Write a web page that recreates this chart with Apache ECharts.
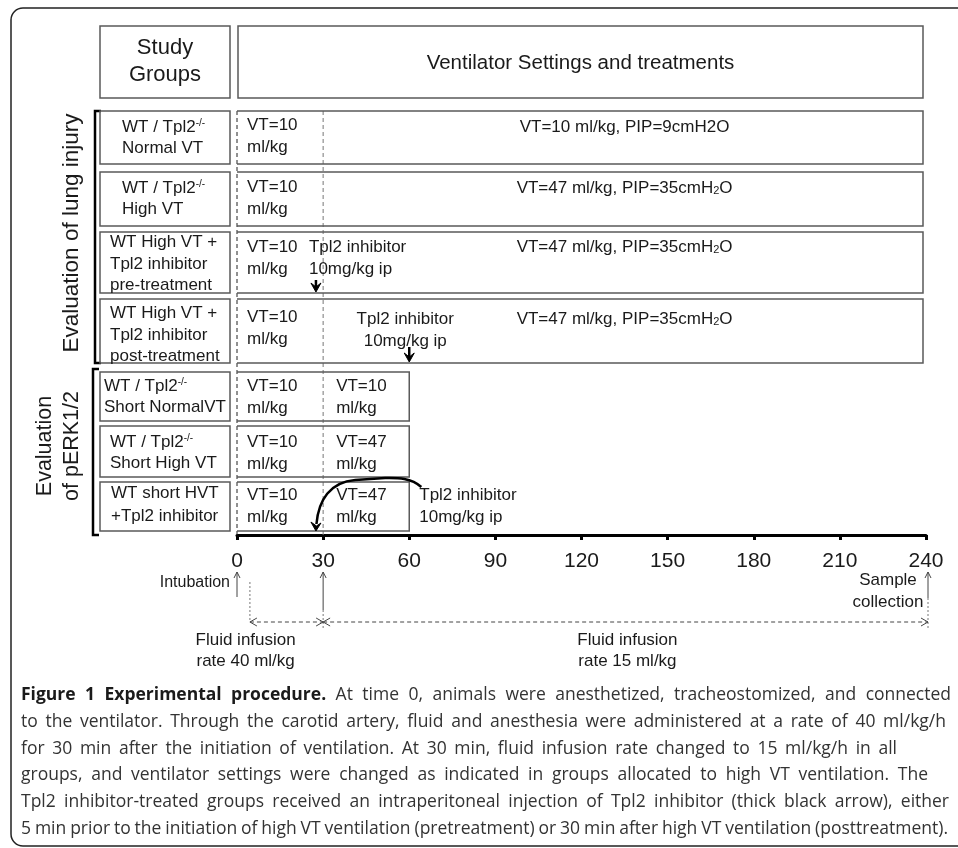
<!DOCTYPE html>
<html><head><meta charset="utf-8">
<script src="https://cdn.jsdelivr.net/npm/echarts@6/dist/echarts.min.js"></script>
<style>html,body{margin:0;padding:0;background:#fff}#c{width:958px;height:848px}</style>
</head><body><div id="c"></div>
<script>
// ---------------- DATA ----------------
const timeTicks = [0, 30, 60, 90, 120, 150, 180, 210, 240];
const groupLines = [
  ["WT / Tpl2{s|-/-}", "Normal VT"],
  ["WT / Tpl2{s|-/-}", "High VT"],
  ["WT High VT +", "Tpl2 inhibitor", "pre-treatment"],
  ["WT High VT +", "Tpl2 inhibitor", "post-treatment"],
  ["WT / Tpl2{s|-/-}", "Short NormalVT"],
  ["WT / Tpl2{s|-/-}", "Short High VT"],
  ["WT short HVT", "+Tpl2 inhibitor"]
];
const rowEnd = [240, 240, 240, 240, 60, 60, 60];
const switchTime = 30;
const earlySettings = [
  ["VT=10", "ml/kg"], ["VT=10", "ml/kg"], ["VT=10", "ml/kg"], ["VT=10", "ml/kg"],
  ["VT=10", "ml/kg"], ["VT=10", "ml/kg"], ["VT=10", "ml/kg"]
];
const lateSettings = [
  ["VT=10 ml/kg, PIP=9cmH2O"],
  ["VT=47 ml/kg, PIP=35cmH{b|2}O"],
  ["VT=47 ml/kg, PIP=35cmH{b|2}O"],
  ["VT=47 ml/kg, PIP=35cmH{b|2}O"],
  ["VT=10", "ml/kg"],
  ["VT=47", "ml/kg"],
  ["VT=47", "ml/kg"]
];
const injectionTime = [null, null, 27.5, 60, null, null, 27.5];
const injectionLabel = ["Tpl2 inhibitor", "10mg/kg ip"];
const eventTimes = [0, 30, 240];
const eventLabels = [["Intubation"], [], ["Sample", "collection"]];
const infusionStart = [4.5, 30];
const infusionEnd = [30, 240];
const infusionLabels = [["Fluid infusion", "rate 40 ml/kg"], ["Fluid infusion", "rate 15 ml/kg"]];
const headerLabels = [["Study", "Groups"], ["Ventilator Settings and treatments"]];
const sectionLabels = [["Evaluation of lung injury"], ["Evaluation", "of pERK1/2"]];
const captionBold = "Figure 1 Experimental procedure.";
const captionLines = [
  "At time 0, animals were anesthetized, tracheostomized, and connected",
  "to the ventilator. Through the carotid artery, fluid and anesthesia were administered at a rate of 40 ml/kg/h",
  "for 30 min after the initiation of ventilation. At 30 min, fluid infusion rate changed to 15 ml/kg/h in all",
  "groups, and ventilator settings were changed as indicated in groups allocated to high VT ventilation. The",
  "Tpl2 inhibitor-treated groups received an intraperitoneal injection of Tpl2 inhibitor (thick black arrow), either",
  "5 min prior to the initiation of high VT ventilation (pretreatment) or 30 min after high VT ventilation (posttreatment)."
];

// ---------------- LAYOUT (pixels) ----------------
const FONT = "Liberation Sans";
const CAPFONT = "Open Sans";
const TXT = "#1a1a1a";
const BOX = "#5a5a5a";
const L = {
  rowTop: [111, 172, 232, 299, 372, 426, 482],
  rowBot: [164, 226, 293, 363, 421, 477, 531],
  leftX0: 100, leftX1: 230,
  leftTextX: [122, 122, 110, 110, 104, 110, 111],
  leftTextY: [[127, 148], [188, 209], [242, 264, 285], [313, 335, 356], [386, 407], [442, 463], [493, 516]],
  earlyY: [125, 187, 247, 317, 386, 442, 495],
  lateY: [127, 188, 247, 319, 386, 442, 495],
  lateCenterT: 135,
  lineGap: 22,
  guideTop: 111, guideBot: 535,
  headerTop: 26, headerBot: 98,
  capX: 21, capY: 695, capGap: 26.8, capFont: 17.5,
  capEnd: [951, 946, 897, 928, 949, 948]
};

const subRich = {
  s: { fontSize: 10, fontFamily: FONT, verticalAlign: 'top', fill: TXT },
  b: { fontSize: 11, fontFamily: FONT, verticalAlign: 'bottom', fill: TXT }
};

function txt(x, y, text, opt) {
  opt = opt || {};
  return {
    type: 'text',
    style: Object.assign({
      x: x, y: y, text: text, fill: TXT, fontFamily: FONT, fontSize: 17,
      align: 'left', verticalAlign: 'middle', rich: subRich
    }, opt)
  };
}

function rowRender(params, api) {
  const i = params.dataIndex;
  const x0 = api.coord([0, 0])[0];
  const xs = api.coord([switchTime, 0])[0];
  const xe = api.coord([rowEnd[i], 0])[0] - (rowEnd[i] === 240 ? 3 : 0);
  const top = api.coord([0, L.rowTop[i]])[1];
  const bot = api.coord([0, L.rowBot[i]])[1];
  const ch = [];
  ch.push({ type: 'rect', shape: { x: L.leftX0, y: top, width: L.leftX1 - L.leftX0, height: bot - top },
    style: { fill: 'none', stroke: BOX, lineWidth: 1.5 } });
  ch.push({ type: 'polyline', shape: { points: [[x0, top], [xe, top], [xe, bot], [x0, bot]] },
    style: { fill: 'none', stroke: BOX, lineWidth: 1.5 } });
  groupLines[i].forEach((s, k) => ch.push(txt(L.leftTextX[i], L.leftTextY[i][k], s)));
  earlySettings[i].forEach((s, k) => ch.push(txt(x0 + 10, L.earlyY[i] + k * L.lineGap, s)));
  if (rowEnd[i] > 100) {
    const xc = api.coord([L.lateCenterT, 0])[0];
    lateSettings[i].forEach((s, k) => ch.push(txt(xc, L.lateY[i] + k * L.lineGap, s, { align: 'center' })));
  } else {
    lateSettings[i].forEach((s, k) => ch.push(txt(xs + 13, L.lateY[i] + k * L.lineGap, s)));
  }
  return { type: 'group', children: ch };
}

function guideRender(params, api) {
  const t = [0, switchTime][params.dataIndex];
  const x = api.coord([t, 0])[0];
  return { type: 'line', shape: { x1: x, y1: api.coord([0, L.guideTop])[1], x2: x, y2: api.coord([0, L.guideBot])[1] },
    style: { stroke: t === 0 ? '#222' : '#777', lineWidth: 1, lineDash: [4, 3] } };
}

function headerRender(params, api) {
  const x0 = api.coord([0, 0])[0], x1 = api.coord([240, 0])[0] - 3;
  const top = api.coord([0, L.headerTop])[1], bot = api.coord([0, L.headerBot])[1];
  return { type: 'group', children: [
    { type: 'rect', shape: { x: x0 + 1, y: top, width: x1 - x0 - 1, height: bot - top }, style: { fill: 'none', stroke: BOX, lineWidth: 1.5 } },
    { type: 'rect', shape: { x: L.leftX0, y: top, width: L.leftX1 - L.leftX0, height: bot - top }, style: { fill: 'none', stroke: BOX, lineWidth: 1.5 } },
    txt((L.leftX0 + L.leftX1) / 2, 48, headerLabels[0][0], { align: 'center', fontSize: 22 }),
    txt((L.leftX0 + L.leftX1) / 2, 75, headerLabels[0][1], { align: 'center', fontSize: 22 }),
    txt(api.coord([120, 0])[0] - 1, 63, headerLabels[1][0], { align: 'center', fontSize: 20.5 })
  ] };
}

function downArrow(x, y1, y2) {
  return [
    { type: 'line', shape: { x1: x, y1: y1, x2: x, y2: y2 - 3 }, style: { stroke: '#000', lineWidth: 2.5 } },
    { type: 'polygon', shape: { points: [[x - 5, y2 - 9], [x, y2], [x + 5, y2 - 9], [x, y2 - 5]] }, style: { fill: '#000', stroke: '#000', lineWidth: 1 } }
  ];
}

function injectRender(params, api) {
  const ch = [];
  injectionTime.forEach((t, i) => {
    if (t === null) return;
    const x = api.coord([t, 0])[0];
    const bot = L.rowBot[i];
    if (i === 2) {
      ch.push(...downArrow(x, bot - 13, bot - 1));
      injectionLabel.forEach((s, k) => ch.push(txt(x - 7, 247 + k * L.lineGap, s)));
    } else if (i === 3) {
      ch.push(...downArrow(x, bot - 16, bot - 1));
      injectionLabel.forEach((s, k) => ch.push(txt(x - 4, 319 + k * L.lineGap, s, { align: 'center' })));
    } else {
      const xe = api.coord([rowEnd[i], 0])[0];
      const c = (tt) => api.coord([tt, 0])[0];
      const path = 'M' + c(64.2) + ' 487 C' + c(60.3) + ' 477 ' + c(55.1) + ' 478 ' + c(51.6) + ' 478 L' + c(41.2) +
        ' 480 C' + c(32.4) + ' 482 ' + c(28.4) + ' 500 ' + (x + 0.5) + ' 524';
      ch.push({ type: 'path', shape: { pathData: path }, style: { fill: 'none', stroke: '#000', lineWidth: 2.5 } });
      ch.push({ type: 'polygon', shape: { points: [[x - 5, bot - 9], [x, bot], [x + 5, bot - 8], [x + 0.5, bot - 5]] }, style: { fill: '#000', stroke: '#000', lineWidth: 1 } });
      injectionLabel.forEach((s, k) => ch.push(txt(xe + 10, 495 + k * L.lineGap, s)));
    }
  });
  return { type: 'group', children: ch };
}

function openHead(x, y, dir) {
  let pts;
  if (dir === 'up') pts = [[x - 3, y + 6], [x, y], [x + 3, y + 6]];
  if (dir === 'left') pts = [[x + 7, y - 4], [x, y], [x + 7, y + 4]];
  if (dir === 'right') pts = [[x - 7, y - 4], [x, y], [x - 7, y + 4]];
  return { type: 'polyline', shape: { points: pts }, style: { fill: 'none', stroke: '#444', lineWidth: 1 } };
}

function bottomRender(params, api) {
  const ch = [];
  const X = (t) => api.coord([t, 0])[0];
  const xi = X(eventTimes[0]);
  ch.push({ type: 'line', shape: { x1: xi, y1: 597, x2: xi, y2: 572 }, style: { stroke: '#444', lineWidth: 1 } });
  ch.push(openHead(xi, 572, 'up'));
  ch.push(txt(xi - 7, 583, eventLabels[0][0], { align: 'right', fontSize: 16 }));
  const x30 = X(eventTimes[1]);
  ch.push({ type: 'line', shape: { x1: x30, y1: 610, x2: x30, y2: 572 }, style: { stroke: '#444', lineWidth: 1 } });
  ch.push({ type: 'line', shape: { x1: x30, y1: 610, x2: x30, y2: 628 }, style: { stroke: '#777', lineWidth: 1, lineDash: [2, 2] } });
  ch.push(openHead(x30, 572, 'up'));
  const xs = X(eventTimes[2]) + 2;
  ch.push({ type: 'line', shape: { x1: xs, y1: 598, x2: xs, y2: 572 }, style: { stroke: '#444', lineWidth: 1 } });
  ch.push({ type: 'line', shape: { x1: xs, y1: 598, x2: xs, y2: 630 }, style: { stroke: '#777', lineWidth: 1, lineDash: [2, 2] } });
  ch.push(openHead(xs, 572, 'up'));
  eventLabels[2].forEach((s, k) => ch.push(txt(xs - 40, 580 + k * 22, s, { align: 'center' })));
  const xStart = X(infusionStart[0]);
  ch.push({ type: 'line', shape: { x1: xStart, y1: 582, x2: xStart, y2: 622 }, style: { stroke: '#777', lineWidth: 1, lineDash: [2, 2] } });
  infusionStart.forEach((t0, k) => {
    const a = X(t0), b = X(infusionEnd[k]) + (k === 1 ? 2 : 0);
    ch.push({ type: 'line', shape: { x1: a, y1: 622, x2: b, y2: 622 }, style: { stroke: '#444', lineWidth: 1, lineDash: [4, 3] } });
    ch.push(openHead(a, 622, 'left'));
    ch.push(openHead(b, 622, 'right'));
  });
  const labX = [X(3), X(136)];
  infusionLabels.forEach((lines, k) => lines.forEach((s, j) => ch.push(txt(labX[k], 640 + j * 21, s, { align: 'center' }))));
  return { type: 'group', children: ch };
}

const chart = echarts.init(document.getElementById('c'), null, { renderer: 'canvas' });

const graphics = [
  { type: 'rect', shape: { x: 11, y: 8, width: 990, height: 838, r: 12 }, style: { fill: 'none', stroke: '#222', lineWidth: 1.5 }, z: 1 },
  { type: 'polyline', shape: { points: [[101, 111], [95, 111], [95, 363], [101, 363]] }, style: { fill: 'none', stroke: '#000', lineWidth: 2.5 } },
  { type: 'polyline', shape: { points: [[99, 369], [93, 369], [93, 535], [99, 535]] }, style: { fill: 'none', stroke: '#000', lineWidth: 2.5 } },
  { type: 'text', x: 72, y: 233, rotation: Math.PI / 2, style: { x: 0, y: 0, text: sectionLabels[0][0], fill: TXT, fontFamily: FONT, fontSize: 22.5, align: 'center', verticalAlign: 'middle' } },
  { type: 'text', x: 45, y: 446, rotation: Math.PI / 2, style: { x: 0, y: 0, text: sectionLabels[1][0], fill: TXT, fontFamily: FONT, fontSize: 21.5, align: 'center', verticalAlign: 'middle' } },
  { type: 'text', x: 72, y: 446, rotation: Math.PI / 2, style: { x: 0, y: 0, text: sectionLabels[1][1], fill: TXT, fontFamily: FONT, fontSize: 21.5, align: 'center', verticalAlign: 'middle' } }
];

// caption: words spread so each line ends where it does in the reference
const mctx = document.createElement('canvas').getContext('2d');
function measure(word, bold, size) {
  mctx.font = (bold ? 'bold ' : '') + size + 'px "' + CAPFONT + '"';
  return mctx.measureText(word).width;
}
captionLines.forEach((line, k) => {
  const words = [];
  if (k === 0) captionBold.split(' ').forEach(w => words.push({ w: w, bold: true }));
  line.split(' ').forEach(w => words.push({ w: w, bold: false }));
  const widths = words.map(o => measure(o.w, o.bold, L.capFont));
  const total = widths.reduce((a, b) => a + b, 0);
  const gap = (L.capEnd[k] - L.capX - total) / (words.length - 1);
  let x = L.capX;
  const y = L.capY + k * L.capGap;
  words.forEach((o, j) => {
    graphics.push({ type: 'text', x: x, y: y, style: {
      x: 0, y: 0, text: o.w, fill: o.bold ? '#1a1a1a' : '#333', fontFamily: CAPFONT,
      fontSize: L.capFont, fontWeight: o.bold ? 'bold' : 'normal', verticalAlign: 'middle', align: 'left'
    } });
    x += widths[j] + gap;
  });
});

chart.setOption({
  animation: false,
  grid: { left: 237, right: 32, top: 26, bottom: 313 },
  xAxis: {
    type: 'value', min: 0, max: 240, interval: 30,
    axisLine: { show: true, onZero: false, lineStyle: { color: '#000', width: 3 } },
    axisTick: { show: true, length: 5, lineStyle: { color: '#000', width: 3 } },
    axisLabel: { fontSize: 21, color: TXT, fontFamily: FONT, margin: 16, customValues: timeTicks },
    splitLine: { show: false }
  },
  yAxis: { type: 'value', min: 26, max: 535, inverse: true, show: false },
  series: [
    { type: 'custom', name: 'header', renderItem: headerRender, data: [0], clip: false, silent: true },
    { type: 'custom', name: 'guides', renderItem: guideRender, data: [0, switchTime], clip: false, silent: true },
    { type: 'custom', name: 'rows', renderItem: rowRender, data: groupLines.map((g, i) => [i]), clip: false, silent: true },
    { type: 'custom', name: 'injections', renderItem: injectRender, data: [0], clip: false, silent: true, z: 5 },
    { type: 'custom', name: 'timeline', renderItem: bottomRender, data: [0], clip: false, silent: true }
  ],
  graphic: graphics
});
</script>
</body></html>
